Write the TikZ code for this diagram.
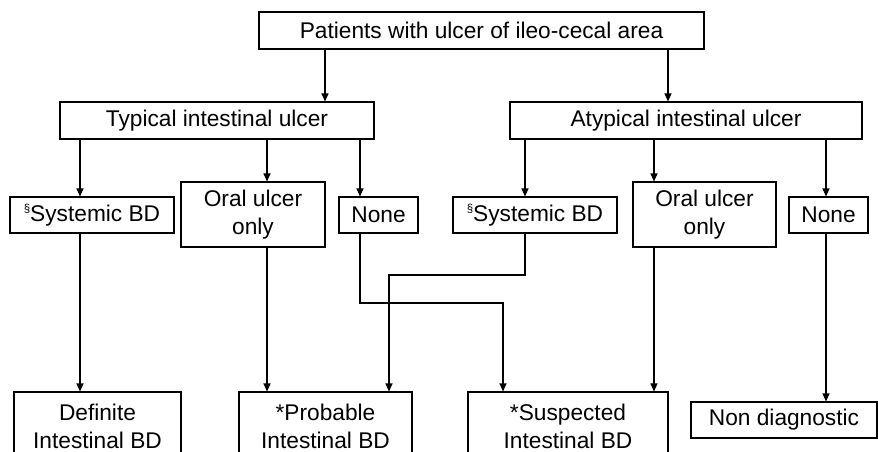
\documentclass[tikz,border=0pt]{standalone}
\usepackage{fontspec}
\setmainfont{Liberation Sans}
\usetikzlibrary{arrows.meta}
\newcommand{\sectmark}{\raisebox{0.42em}{\fontsize{11.5}{11.5}\selectfont §}}
\tikzset{
  box/.style={draw, line width=1.1pt, rectangle, inner sep=0pt, align=center,
    font=\fontsize{22.7}{28}\selectfont},
  conn/.style={line width=1.1pt, -{Triangle[length=8pt,width=7pt]}},
}
\begin{document}
\begin{tikzpicture}[x=1pt,y=-1pt]
\useasboundingbox (0,0) rectangle (878,452);
\clip (0,0) rectangle (878,452);
% nodes
\node[box, minimum width=445pt, minimum height=37pt] (top) at (481.5,30.5) {Patients with ulcer of ileo-cecal area};
\node[box, minimum width=314pt, minimum height=37pt] (typ) at (217,120.5) {Typical intestinal ulcer};
\node[box, minimum width=352pt, minimum height=37pt] (atyp) at (686,120.5) {Atypical intestinal ulcer};
\node[box, minimum width=164pt, minimum height=36pt] (sysa) at (92,215) {\sectmark Systemic BD};
\node[box, minimum width=144pt, minimum height=65pt] (orala) at (253,214.5) {Oral ulcer\\only};
\node[box, minimum width=79pt, minimum height=36pt] (nonea) at (378.5,215) {None};
\node[box, minimum width=164pt, minimum height=36pt] (sysb) at (535,215) {\sectmark Systemic BD};
\node[box, minimum width=143pt, minimum height=65pt] (oralb) at (704.5,214.5) {Oral ulcer\\only};
\node[box, minimum width=79pt, minimum height=36pt] (noneb) at (828.5,215) {None};
\node[box, minimum width=167pt, minimum height=69pt] (def) at (97.5,426.5) {Definite\\Intestinal BD};
\node[box, minimum width=173pt, minimum height=69pt] (prob) at (325.5,426.5) {*Probable\\Intestinal BD};
\node[box, minimum width=200pt, minimum height=69pt] (susp) at (568,426.5) {*Suspected\\Intestinal BD};
\node[box, minimum width=186pt, minimum height=36pt] (nond) at (784,420) {Non diagnostic};
% guide coordinates
\coordinate (xa) at (325,0);
\coordinate (xb) at (668,0);
\coordinate (xc) at (80,0);
\coordinate (xd) at (267,0);
\coordinate (xe) at (360,0);
\coordinate (xf) at (525,0);
\coordinate (xg) at (654,0);
\coordinate (xh) at (826,0);
\coordinate (xi) at (503,0);
\coordinate (xj) at (389,0);
\coordinate (bendA) at (360,303);
\coordinate (bendB) at (503,303);
\coordinate (bendC) at (525,275);
\coordinate (bendD) at (389,275);
% connectors
\draw[conn] (top.south -| xa) -- (typ.north -| xa);
\draw[conn] (top.south -| xb) -- (atyp.north -| xb);
\draw[conn] (typ.south -| xc) -- (sysa.north -| xc);
\draw[conn] (typ.south -| xd) -- (orala.north -| xd);
\draw[conn] (typ.south -| xe) -- (nonea.north -| xe);
\draw[conn] (atyp.south -| xf) -- (sysb.north -| xf);
\draw[conn] (atyp.south -| xg) -- (oralb.north -| xg);
\draw[conn] (atyp.south -| xh) -- (noneb.north -| xh);
\draw[conn] (sysa.south -| xc) -- (def.north -| xc);
\draw[conn] (orala.south -| xd) -- (prob.north -| xd);
\draw[conn] (nonea.south -| xe) -- (bendA) -- (bendB) -- (susp.north -| xi);
\draw[conn] (sysb.south -| xf) -- (bendC) -- (bendD) -- (prob.north -| xj);
\draw[conn] (oralb.south -| xg) -- (susp.north -| xg);
\draw[conn] (noneb.south -| xh) -- (nond.north -| xh);
\end{tikzpicture}
\end{document}
